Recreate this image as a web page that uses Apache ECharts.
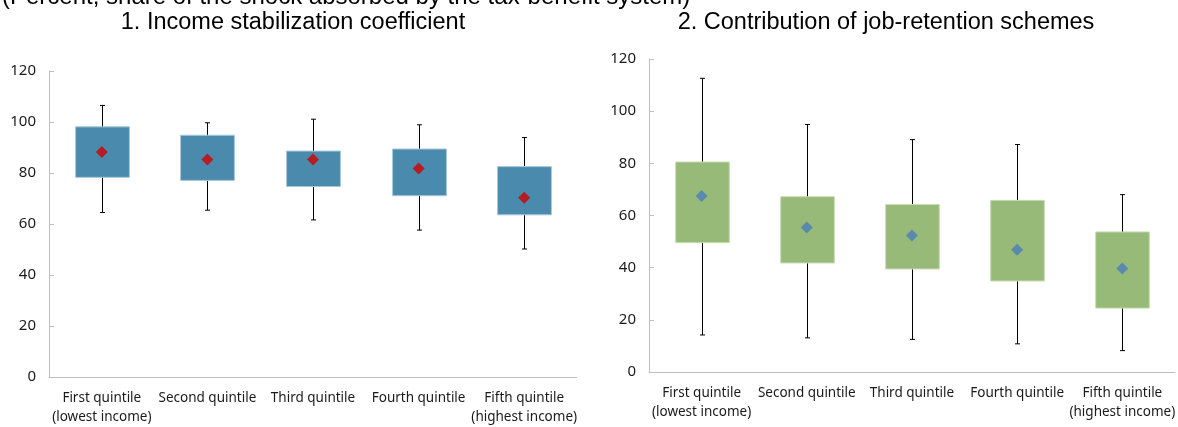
<!DOCTYPE html>
<html>
<head>
<meta charset="utf-8">
<script src="https://cdn.jsdelivr.net/npm/echarts@6/dist/echarts.min.js"></script>
<style>
html,body{margin:0;padding:0;background:#fff;}
#chart{width:1178px;height:427px;}
</style>
</head>
<body>
<div id="chart"></div>
<script>
// ---- data ----
const categories = ['First quintile\n(lowest income)', 'Second quintile', 'Third quintile', 'Fourth quintile', 'Fifth quintile\n(highest income)'];
const yTicks = { min: 0, max: 120, interval: 20 };

// Panel 1: Income stabilization coefficient
const iscMin  = [64.5, 65.4, 61.6, 57.6, 50.2];
const iscQ1   = [78.3, 77.1, 74.7, 71.1, 63.6];
const iscQ3   = [98.1, 94.8, 88.6, 89.4, 82.5];
const iscMax  = [106.5, 99.7, 101.1, 98.9, 93.9];
const iscMean = [88.2, 85.3, 85.3, 81.8, 70.3];

// Panel 2: Contribution of job-retention schemes
const jrsMin  = [14.2, 13.1, 12.5, 10.8, 8.2];
const jrsQ1   = [49.6, 41.8, 39.5, 34.9, 24.5];
const jrsQ3   = [80.5, 67.2, 64.2, 65.8, 53.7];
const jrsMax  = [112.6, 94.9, 89.1, 87.2, 68.0];
const jrsMean = [67.5, 55.4, 52.3, 46.9, 39.7];

const subtitle = '(Percent, share of the shock absorbed by the tax-benefit system)';
const title1 = '1. Income stabilization coefficient';
const title2 = '2. Contribution of job-retention schemes';

// ---- build ----
function rows(mn, q1, q3, mx) {
  return categories.map((c, i) => [i, mn[i], q1[i], q3[i], mx[i]]);
}
function makeRender(fill, stroke) {
  return function (params, api) {
    const c = api.value(0);
    const pMin = api.coord([c, api.value(1)]);
    const pQ1 = api.coord([c, api.value(2)]);
    const pQ3 = api.coord([c, api.value(3)]);
    const pMax = api.coord([c, api.value(4)]);
    const bw = api.size([1, 0])[0] * 0.51;
    const x = Math.round(pMin[0]) + 0.5;
    const ls = { stroke: '#000', lineWidth: 1 };
    return {
      type: 'group',
      children: [
        { type: 'line', shape: { x1: x, y1: pMax[1], x2: x, y2: pMin[1] }, style: ls },
        { type: 'line', shape: { x1: x - 2.5, y1: pMax[1], x2: x + 2.5, y2: pMax[1] }, style: ls },
        { type: 'line', shape: { x1: x - 2.5, y1: pMin[1], x2: x + 2.5, y2: pMin[1] }, style: ls },
        { type: 'rect', shape: { x: x - bw / 2, y: pQ3[1], width: bw, height: pQ1[1] - pQ3[1] },
          style: { fill: fill, stroke: stroke, lineWidth: 1 } }
      ]
    };
  };
}

const labelFont = '"Noto Sans", "Open Sans", sans-serif';
function xAxis(gi) {
  return {
    type: 'category', gridIndex: gi, data: categories,
    axisLine: { lineStyle: { color: '#bfbfbf', width: 1 } },
    axisTick: { inside: true, length: 5, lineStyle: { color: '#bfbfbf' } },
    axisLabel: { color: '#1a1a1a', fontSize: 13.5, fontFamily: labelFont, margin: 12, lineHeight: 19, interval: 0 },
    splitLine: { show: false }
  };
}
function yAxis(gi) {
  return {
    type: 'value', gridIndex: gi, min: yTicks.min, max: yTicks.max, interval: yTicks.interval,
    axisLine: { show: true, lineStyle: { color: '#bfbfbf', width: 1 } },
    axisTick: { show: true, inside: true, length: 5, lineStyle: { color: '#bfbfbf' } },
    axisLabel: { color: '#1a1a1a', fontSize: 15, fontFamily: labelFont, margin: 13 },
    splitLine: { show: false }
  };
}

const chart = echarts.init(document.getElementById('chart'), null, { renderer: 'canvas' });
chart.setOption({
  animation: false,
  backgroundColor: '#fff',
  grid: [
    { left: 49, top: 71, width: 528, height: 311 },
    { left: 649, top: 59, width: 528, height: 313 }
  ],
  xAxis: [xAxis(0), xAxis(1)],
  yAxis: [yAxis(0), yAxis(1)],
  graphic: [
    { type: 'text', left: 2, top: -15, style: { text: subtitle, font: '24px "Liberation Sans", Arial, sans-serif', fill: '#000' } },
    { type: 'text', x: 293, y: 23, style: { text: title1, font: '23.5px "Liberation Sans", Arial, sans-serif', fill: '#000', align: 'center', verticalAlign: 'middle' } },
    { type: 'text', x: 886, y: 23, style: { text: title2, font: '23.5px "Liberation Sans", Arial, sans-serif', fill: '#000', align: 'center', verticalAlign: 'middle' } }
  ],
  series: [
    { type: 'custom', xAxisIndex: 0, yAxisIndex: 0, renderItem: makeRender('#4a8bad', '#a6c7d9'),
      data: rows(iscMin, iscQ1, iscQ3, iscMax), encode: { x: 0, y: [1, 2, 3, 4] }, z: 2 },
    { type: 'scatter', xAxisIndex: 0, yAxisIndex: 0, data: iscMean, symbol: 'diamond', symbolSize: 12,
      itemStyle: { color: '#d00000' }, z: 3 },
    { type: 'custom', xAxisIndex: 1, yAxisIndex: 1, renderItem: makeRender('#97ba78', '#c6dcb3'),
      data: rows(jrsMin, jrsQ1, jrsQ3, jrsMax), encode: { x: 0, y: [1, 2, 3, 4] }, z: 2 },
    { type: 'scatter', xAxisIndex: 1, yAxisIndex: 1, data: jrsMean, symbol: 'diamond', symbolSize: 12,
      itemStyle: { color: '#4a7ebb' }, z: 3 }
  ]
});
</script>
</body>
</html>
